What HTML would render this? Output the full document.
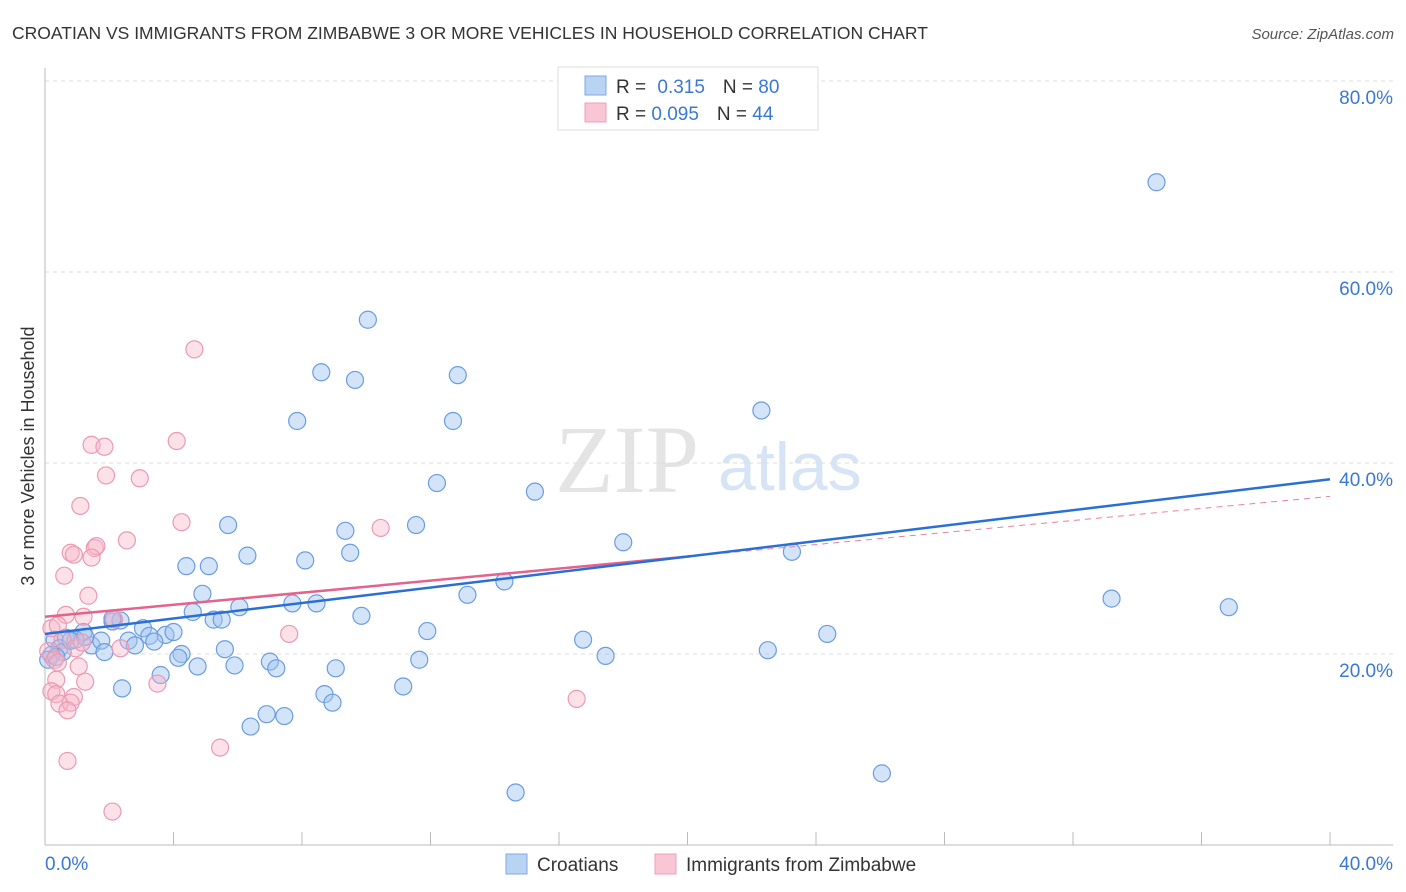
<!DOCTYPE html>
<html><head><meta charset="utf-8"><style>
body{margin:0;background:#fff;font-family:"Liberation Sans",sans-serif;}
svg{display:block}
</style></head><body>
<svg id="chart" width="1406" height="892" viewBox="0 0 1406 892">
<text x="12" y="39" font-size="17.5" fill="#333">CROATIAN VS IMMIGRANTS FROM ZIMBABWE 3 OR MORE VEHICLES IN HOUSEHOLD CORRELATION CHART</text>
<text x="1394" y="39" font-size="15" fill="#555" text-anchor="end" font-style="italic">Source: ZipAtlas.com</text>
<g>
<text x="555" y="492" font-size="96" font-family="Liberation Serif,serif" fill="#e4e4e4">ZIP</text>
<text x="718" y="490" font-size="68" fill="#d7e4f5">atlas</text>
</g>
<g id="grid"></g>
<g id="axes"></g>
<g id="pts"></g>
<g id="lines"></g>
<text transform="translate(34,456) rotate(-90)" font-size="18" fill="#333" text-anchor="middle">3 or more Vehicles in Household</text>
<g>
<rect x="558" y="67" width="260" height="63" fill="#fff" stroke="#ddd"/>
<rect x="585" y="76" width="21" height="19" fill="#b9d3f3" stroke="#7fa9e2"/>
<rect x="585" y="103" width="21" height="19" fill="#f8c6d4" stroke="#eea0b8"/>
<text x="616" y="93" font-size="19" fill="#333">R = <tspan fill="#3a78d4" dx="6">0.315</tspan><tspan dx="18" fill="#333">N = </tspan><tspan fill="#3a78d4">80</tspan></text>
<text x="616" y="120" font-size="19" fill="#333">R = <tspan fill="#3a78d4">0.095</tspan><tspan dx="18" fill="#333">N = </tspan><tspan fill="#3a78d4">44</tspan></text>
</g>
<g>
<rect x="506" y="854" width="21" height="20" fill="#b9d3f3" stroke="#7fa9e2"/>
<text x="537" y="871" font-size="19" fill="#333">Croatians</text>
<rect x="655" y="854" width="21" height="20" fill="#f8c6d4" stroke="#eea0b8"/>
<text x="686" y="871" font-size="19" fill="#333">Immigrants from Zimbabwe</text>
</g>
</svg>
<script>
const blueX=[34.6,10.05,8.6,9.65,12.85,22.3,7.85,12.7,12.2,15.25,5.7,11.55,9.35,18.0,9.5,6.3,8.1,23.25,4.4,5.1,14.3,13.15,33.2,36.85,4.9,7.7,8.45,6.05,9.85,4.6,5.25,5.5,2.1,2.35,3.05,1.2,3.75,4.0,3.25,2.6,1.45,1.75,0.3,0.65,0.95,11.9,16.75,24.35,1.85,3.4,2.8,5.6,4.25,4.15,7.0,5.9,7.2,4.75,9.05,11.65,17.45,22.5,0.45,0.55,0.2,3.6,2.4,11.15,8.7,8.95,6.9,7.45,6.4,26.05,14.65,0.1,0.35,0.8,2.1,1.25];
const blueY=[69.4,55.0,49.5,48.7,49.2,45.5,44.4,44.4,37.9,37.0,33.5,33.5,32.9,31.7,30.6,30.3,29.8,30.7,29.2,29.2,27.6,26.2,25.8,24.9,26.3,25.3,25.3,24.9,24.0,24.4,23.6,23.6,23.4,23.5,22.7,22.3,22.0,22.3,21.9,21.4,20.9,21.4,21.5,21.7,21.5,22.4,21.5,22.1,20.2,21.3,20.9,20.5,20.0,19.6,19.2,18.8,18.5,18.7,18.5,19.4,19.8,20.4,20.6,20.2,19.9,17.8,16.4,16.6,15.8,14.9,13.7,13.5,12.4,7.5,5.5,19.4,19.7,21.4,23.7,21.8];
const pinkX=[4.65,4.1,1.45,1.85,1.9,2.95,1.1,4.25,2.55,10.45,1.55,1.6,0.8,0.9,1.45,0.6,1.35,0.65,1.2,2.15,0.2,0.4,7.6,2.35,0.55,0.95,1.15,0.1,0.3,0.4,1.05,0.35,1.25,3.5,0.2,0.35,0.9,0.45,0.8,0.7,16.55,5.45,0.7,2.1];
const pinkY=[51.9,42.3,41.9,41.7,38.7,38.4,35.5,33.8,31.9,33.2,31.1,31.3,30.6,30.4,30.1,28.2,26.1,24.1,23.9,23.6,22.7,23.0,22.1,20.6,21.5,20.6,21.2,20.3,19.4,19.1,18.7,17.3,17.1,16.9,16.1,15.8,15.5,14.8,14.9,14.1,15.3,10.2,8.8,3.5];
const blueTrend=[22.1,38.3];
const pinkTrend=[23.9,36.5];
const pinkSolidEnd=20.1;
const yTicks=[20,40,60,80];
const xTickLabels=["0.0%","40.0%"];
const NS="http://www.w3.org/2000/svg";
const sx=v=>45+v*32.125;
const sy=v=>845-v*9.55;
function mk(tag,attrs,parent){const e=document.createElementNS(NS,tag);for(const k in attrs)e.setAttribute(k,attrs[k]);parent.appendChild(e);return e;}
const grid=document.getElementById('grid'),axes=document.getElementById('axes'),pts=document.getElementById('pts'),lines=document.getElementById('lines');
yTicks.forEach(t=>{
 const l=mk('line',{x1:45,x2:1393,y1:sy(t),y2:sy(t),stroke:'#ddd','stroke-dasharray':'4,4'},grid);
 
 
 const tx=mk('text',{x:1393,y:sy(t)+23,'font-size':19,fill:'#3a78d4','text-anchor':'end'},grid);
 tx.textContent=t.toFixed(1)+'%';
 
 
});
const ax=mk('line',{x1:45,x2:1393,y1:845,y2:845,stroke:'#bbb'},axes);


const ay=mk('line',{x1:45,x2:45,y1:68,y2:845,stroke:'#bbb'},axes);


for(let i=1;i<=10;i++){
 const t=mk('line',{x1:sx(i*4),x2:sx(i*4),y1:832,y2:845,stroke:'#bbb'},axes);
 
 
}
[[0,'start',45],[40,'end',1393]].forEach((d,i)=>{
 const tx=mk('text',{x:d[2],y:870,'font-size':19,fill:'#3a78d4','text-anchor':d[1]},axes);
 tx.textContent=xTickLabels[i];
 
 
});
blueX.forEach((x,i)=>{
 const c=mk('circle',{cx:sx(x),cy:sy(blueY[i]),r:8.5,fill:'rgba(160,196,240,0.45)',stroke:'#6a9de0','stroke-width':1.2},pts);
 
 
});
pinkX.forEach((x,i)=>{
 const c=mk('circle',{cx:sx(x),cy:sy(pinkY[i]),r:8.5,fill:'rgba(247,180,200,0.4)',stroke:'#eb9ab4','stroke-width':1.2},pts);
 
 
});
const py=x=>pinkTrend[0]+(pinkTrend[1]-pinkTrend[0])*x/40;
const pd=mk('line',{x1:sx(pinkSolidEnd),y1:sy(py(pinkSolidEnd)),x2:sx(40),y2:sy(pinkTrend[1]),stroke:'#e8819f','stroke-width':1,'stroke-dasharray':'6,5'},lines);


const ps=mk('line',{x1:sx(0),y1:sy(pinkTrend[0]),x2:sx(pinkSolidEnd),y2:sy(py(pinkSolidEnd)),stroke:'#e4628c','stroke-width':2.5},lines);


const bl=mk('line',{x1:sx(0),y1:sy(blueTrend[0]),x2:sx(40),y2:sy(blueTrend[1]),stroke:'#2a6fd6','stroke-width':2.5},lines);


</script>
</body></html>
